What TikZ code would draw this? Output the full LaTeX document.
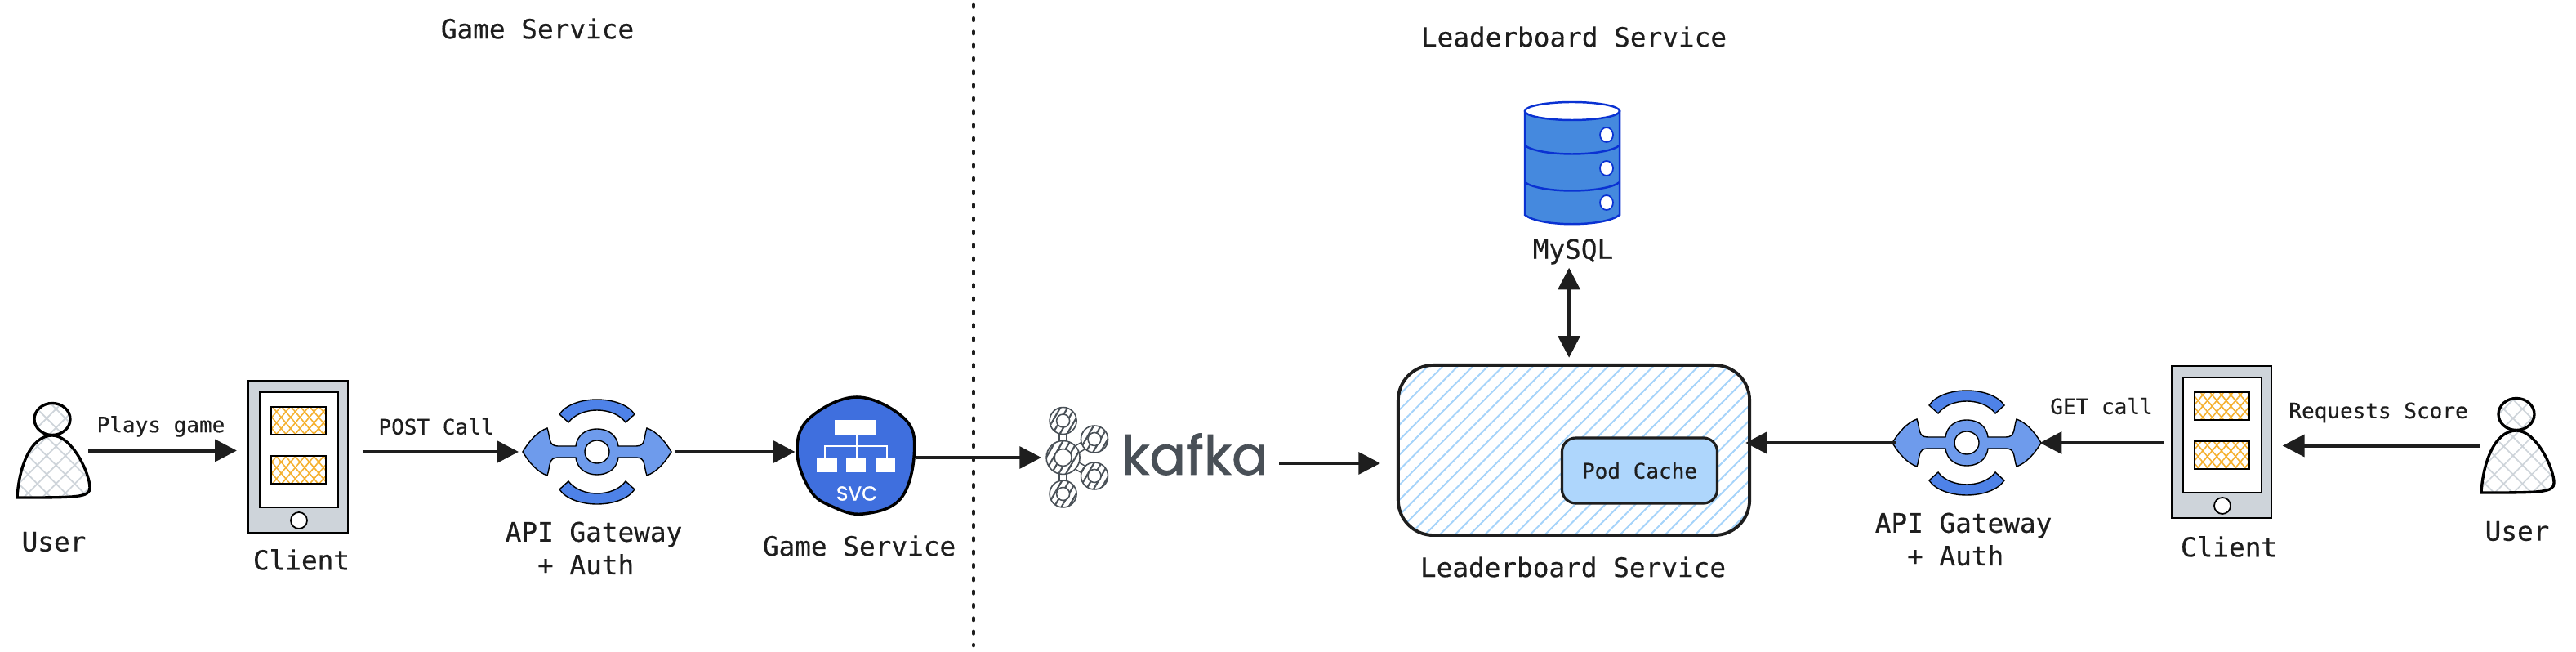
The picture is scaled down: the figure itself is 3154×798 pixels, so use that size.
\documentclass[tikz,border=0pt]{standalone}
\usepackage{fontspec}
\setmainfont[FakeBold=0.35]{DejaVu Sans Mono}
\newfontfamily\handfont[FakeBold=1.1]{Poppins}
\usetikzlibrary{arrows.meta,patterns.meta}
\definecolor{ink}{HTML}{1E1E1E}
\definecolor{greyhatch}{HTML}{CED4DA}
\definecolor{orangehatch}{HTML}{F5B02E}
\definecolor{phonegrey}{HTML}{CED4DA}
\definecolor{gwdark}{HTML}{4E82E8}
\definecolor{gwlight}{HTML}{6E9BEC}
\definecolor{svcblue}{HTML}{3F6FDE}
\definecolor{dbfill}{HTML}{4589DE}
\definecolor{dbline}{HTML}{0A32D2}
\definecolor{cacheblue}{HTML}{AED6FC}
\definecolor{lbhatch}{HTML}{A5D3FA}
\definecolor{kafkagrey}{HTML}{495057}
\tikzset{
    >={Triangle[length=7.6pt,width=7.6pt]},
    arr/.style={->,draw=ink,fill=ink,line width=1.2pt},
    biglabel/.style={text=ink,font=\fontsize{9.3pt}{11.4pt}\selectfont,align=center,inner sep=1pt},
    smalllabel/.style={text=ink,font=\fontsize{7.4pt}{9pt}\selectfont,inner sep=1pt},
    iconbox/.style={rectangle,inner sep=0pt,outer sep=0pt},
    greycross/.style={preaction={fill=white},
        preaction={pattern={Lines[angle=45,distance=4.6pt,line width=0.5pt]},pattern color=greyhatch},
        preaction={pattern={Lines[angle=-45,distance=4.6pt,line width=0.5pt]},pattern color=greyhatch}},
    orangecross/.style={preaction={fill=white},
        preaction={pattern={Lines[angle=50,distance=2.5pt,line width=0.45pt]},pattern color=orangehatch},
        preaction={pattern={Lines[angle=-50,distance=2.5pt,line width=0.45pt]},pattern color=orangehatch}},
    kafkahatch/.style={preaction={fill=white},
        preaction={pattern={Lines[angle=60,distance=2.2pt,line width=0.6pt]},pattern color=kafkagrey}},
    kafkaline/.style={draw=kafkagrey,line width=0.45pt},
    gwline/.style={draw=black,line width=0.4pt},
    dbstroke/.style={draw=dbline,line width=0.7pt},
}
\newcommand{\userfig}[3]{
    \begin{scope}[shift={(#2,#3)}]
        \node (#1) at (1.5,38.5) [iconbox,minimum width=0.89cm,minimum height=1.15cm] {};
        \draw[line width=0.95pt,greycross] (0,0) ellipse (22 and 19.5);
        \draw[line width=0.95pt,greycross] (-43,96) .. controls (-41,60) and (-27,20) .. (0,20)
            .. controls (24,20) and (46,66) .. (46,84) .. controls (46,96) and (30,96) .. (-43,96) -- cycle;
    \end{scope}
}
\newcommand{\clientfig}[3]{
    \begin{scope}[shift={(#2,#3)}]
        \node (#1) at (61,93) [iconbox,minimum width=1.22cm,minimum height=1.86cm] {};
        \draw[line width=0.8pt,fill=phonegrey] (0,0) rectangle (122,186);
        \draw[line width=0.75pt,fill=white] (14,14) rectangle (110,155);
        \draw[line width=0.7pt,orangecross] (28,32) rectangle (95,66);
        \draw[line width=0.7pt,orangecross] (28,92) rectangle (95,126);
        \draw[line width=0.5pt,fill=white] (62,171) ellipse (10 and 10);
    \end{scope}
}
\newcommand{\gatewayfig}[3]{
    \begin{scope}[shift={(#2,#3)}]
        \node (#1) at (0,0) [iconbox,minimum width=1.82cm,minimum height=1.29cm] {};
        \draw[gwline,fill=gwdark] (-46,-46) .. controls (-30,-70) and (30,-70) .. (46,-46) -- (35,-36)
            .. controls (20,-56) and (-20,-56) .. (-35,-36) -- cycle;
        \draw[gwline,fill=gwdark] (-46,46) .. controls (-30,70) and (30,70) .. (46,46) -- (35,36)
            .. controls (20,56) and (-20,56) .. (-35,36) -- cycle;
        \draw[gwline,fill=gwlight] (-91,0) .. controls (-82,-15) and (-72,-25) .. (-61,-29)
            .. controls (-57,-18) and (-60,-7) .. (-48,-7) -- (-26,-7)
            .. controls (-24,-22) and (-12,-28) .. (0,-28) .. controls (12,-28) and (24,-22) .. (26,-7)
            -- (48,-7) .. controls (60,-7) and (57,-18) .. (61,-29)
            .. controls (72,-25) and (82,-15) .. (91,0) .. controls (82,15) and (72,25) .. (61,29)
            .. controls (57,18) and (60,7) .. (48,7) -- (26,7)
            .. controls (24,22) and (12,28) .. (0,28) .. controls (-12,28) and (-24,22) .. (-26,7)
            -- (-48,7) .. controls (-60,7) and (-57,18) .. (-61,29)
            .. controls (-72,25) and (-82,15) .. (-91,0) -- cycle;
        \draw[gwline,fill=white] (0,0) ellipse (15 and 14);
    \end{scope}
}
\begin{document}
\begin{tikzpicture}[x=0.01cm,y=-0.01cm]
    \useasboundingbox (0,0) rectangle (3154,798);

    \node (titlegame) at (658,35) [biglabel] {Game Service};
    \node (titlelb) at (1927,45) [biglabel] {Leaderboard Service};
    \coordinate (divtop) at (1192,6);
    \coordinate (divbot) at (1192,790);
    \draw[ink,line width=1.3pt,line cap=round,dash pattern=on 0.7pt off 3.94pt] (divtop) -- (divbot);

    \userfig{user1}{64}{513}
    \clientfig{client1}{304}{466}
    \gatewayfig{gw1}{731}{553}
    \userfig{user2}{3081}{507}
    \clientfig{client2}{2659}{448}
    \gatewayfig{gw2}{2408}{542}

    \node (svc1) at (1047.75,558) [iconbox,minimum width=1.435cm,minimum height=1.44cm] {};
    \draw[line width=1pt,fill=svcblue] plot[smooth cycle,tension=0.65] coordinates {(1049,486) (1107,512) (1119.5,553) (1103,610) (1057,629) (1019,620) (992,600) (976,553) (991,512)};
    \draw[white,line width=0.6pt] (1049,533) -- (1049,561);
    \draw[white,line width=0.6pt] (1010,561) -- (1010,546) -- (1086,546) -- (1086,561);
    \fill[white] (1022,514) rectangle (1073,533);
    \fill[white] (1000,561) rectangle (1025,578);
    \fill[white] (1036,561) rectangle (1060,578);
    \fill[white] (1072,561) rectangle (1096,578);
    \node (svctext) at (1049,604) [text=white,inner sep=0pt,font=\handfont\fontsize{7pt}{8pt}\selectfont] {SVC};

    \node (kafka1) at (1318.5,560) [iconbox,minimum width=0.75cm,minimum height=1.22cm] {};
    \draw[kafkaline,double=white,double distance=2.2pt] (1301.6,513) -- (1301.6,604.5);
    \draw[kafkaline,double=white,double distance=2.2pt] (1340,537.5) -- (1301.6,560) -- (1340,582.5);
    \draw[kafkaline,kafkahatch] (1301.6,515) circle (16.5);
    \draw[kafkaline,fill=white] (1301.6,515) circle (8);
    \draw[kafkaline,kafkahatch] (1301.6,604.5) circle (16.5);
    \draw[kafkaline,fill=white] (1301.6,604.5) circle (8);
    \draw[kafkaline,kafkahatch] (1340,537.5) circle (16.5);
    \draw[kafkaline,fill=white] (1340,537.5) circle (8);
    \draw[kafkaline,kafkahatch] (1340,582.5) circle (16.5);
    \draw[kafkaline,fill=white] (1340,582.5) circle (8);
    \draw[kafkaline,kafkahatch] (1301.6,560) circle (20.5);
    \draw[kafkaline,fill=white] (1301.6,560) circle (10.5);
    \node (kafkatext) at (1463,556) [text=kafkagrey,inner sep=0pt,font=\handfont\fontsize{18.8pt}{20pt}\selectfont] {kafka};
    \coordinate (kafkaout) at (1566,567);

    \node (lb) at (1927,551) [draw=ink,line width=1.1pt,rounded corners=0.43cm,minimum width=4.3cm,minimum height=2.08cm,outer sep=0pt,
        preaction={fill=white},preaction={pattern={Lines[angle=45,distance=3.7pt,line width=0.55pt]},pattern color=lbhatch}] {};
    \node (podcache) at (2007.5,576) [smalllabel,draw=ink,fill=cacheblue,line width=0.9pt,rounded corners=0.17cm,minimum width=1.9cm,minimum height=0.8cm] {Pod Cache};

    \node (db1) at (1925,199.5) [iconbox,minimum width=1.18cm,minimum height=1.49cm] {};
    \draw[dbstroke,fill=dbfill] (1867,136) -- (1867,263) .. controls (1885,278) and (1965,278) .. (1983,263) -- (1983,136) -- cycle;
    \draw[dbstroke,fill=white] (1925,136) ellipse (58 and 11);
    \draw[dbstroke] (1867,178) .. controls (1885,192) and (1965,192) .. (1983,178);
    \draw[dbstroke] (1867,223) .. controls (1885,237) and (1965,237) .. (1983,223);
    \draw[dbstroke,line width=0.5pt,fill=white] (1967,165) ellipse (8 and 9);
    \draw[dbstroke,line width=0.5pt,fill=white] (1967,206) ellipse (8 and 9);
    \draw[dbstroke,line width=0.5pt,fill=white] (1967,248) ellipse (8 and 9);

    \node (lbluser1) at (66,663) [biglabel] {User};
    \node (lblclient1) at (369,685) [biglabel] {Client};
    \node (lblgw1) at (727,671) [biglabel] {API Gateway\\+ Auth\hphantom{.}};
    \node (lblsvc) at (1052,668) [biglabel] {Game Service};
    \node (lblmysql) at (1926,308) [biglabel] {MySQL};
    \node (lbllb) at (1926,694) [biglabel] {Leaderboard Service};
    \node (lblgw2) at (2404,660) [biglabel] {API Gateway\\+ Auth\hphantom{.}};
    \node (lblclient2) at (2729,669) [biglabel] {Client};
    \node (lbluser2) at (3082,650) [biglabel] {User};

    \node (lblplays) at (197,522) [smalllabel] {Plays game};
    \node (lblpost) at (534,522) [smalllabel] {POST Call};
    \node (lblget) at (2573,497) [smalllabel] {GET call};
    \node (lblreq) at (2912,505) [smalllabel] {Requests Score};

    \draw[arr,shorten >=4pt,shorten <=-0.5pt] (user1.east) -- (user1.east -| client1.west);
    \draw[arr,shorten >=1.4pt,shorten <=5.1pt] (client1.east |- gw1.west) -- (gw1.west);
    \draw[arr,shorten >=0.7pt,shorten <=1.1pt] (gw1.east) -- (gw1.east -| svc1.west);
    \draw[arr,shorten >=1.7pt,shorten <=0.3pt] (svc1.east |- kafka1.west) -- (kafka1.west);
    \draw[arr,shorten >=6.2pt] (kafkaout) -- (kafkaout -| lb.west);
    \draw[arr,<->,shorten >=2.6pt,shorten <=0pt] ([xshift=-1.4pt]lblmysql.south) -- ([xshift=-1.4pt]lblmysql.south |- lb.north);
    \draw[arr,shorten >=-1.4pt,shorten <=-1.1pt] (gw2.west) -- (gw2.west -| lb.east);
    \draw[arr,shorten >=-0.4pt,shorten <=2.8pt] (client2.west |- gw2.east) -- (gw2.east);
    \draw[arr,shorten >=3.9pt,shorten <=0.6pt] (user2.west) -- (user2.west -| client2.east);
\end{tikzpicture}
\end{document}
